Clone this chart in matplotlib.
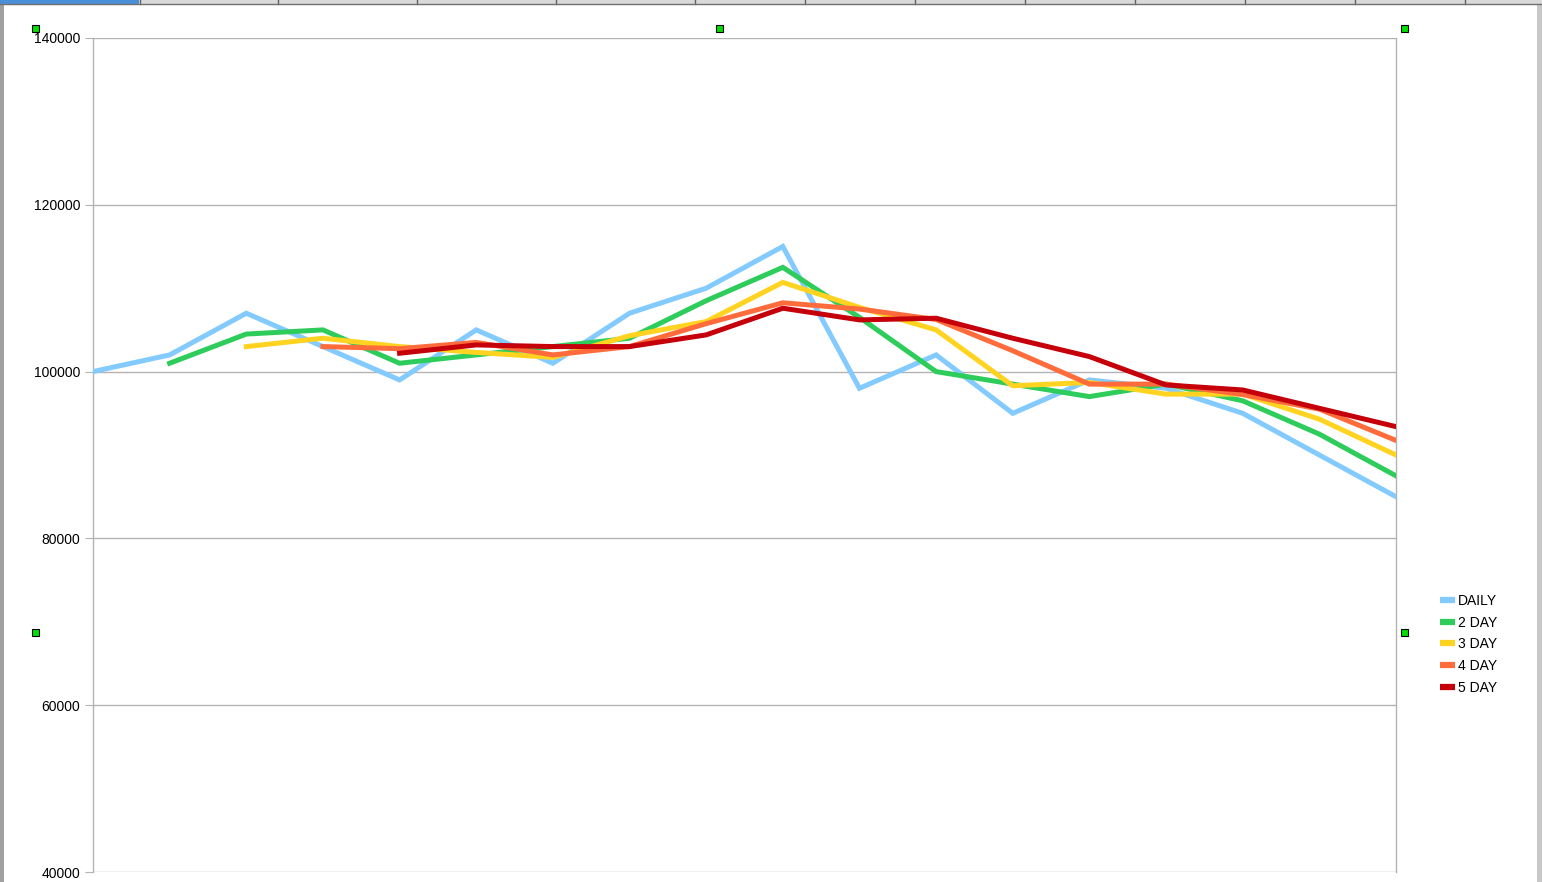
import numpy as np
import matplotlib.pyplot as plt
from matplotlib.patches import Rectangle
from matplotlib.lines import Line2D

# values (x = day index 0..17)
days = np.arange(18)
daily = [100000, 102000, 107000, 103000, 99000, 105000, 101000, 107000, 110000,
         115000, 98000, 102000, 95000, 99000, 98000, 95000, 90000, 85000]
day2 = [None, 101000, 104500, 105000, 101000, 102000, 103000, 104000, 108500,
        112500, 106500, 100000, 98500, 97000, 98500, 96500, 92500, 87500]
day3 = [None, None, 103000, 104000, 103000, 102300, 101700, 104300, 106000,
        110700, 107700, 105000, 98300, 98700, 97300, 97300, 94300, 90000]
day4 = [None, None, None, 103000, 102750, 103500, 102000, 103000, 105750,
        108250, 107500, 106250, 102500, 98500, 98500, 97250, 95500, 91750]
day5 = [None, None, None, None, 102200, 103200, 103000, 103000, 104400,
        107600, 106200, 106400, 104000, 101800, 98400, 97800, 95600, 93400]

series_names = ["DAILY", "2 DAY", "3 DAY", "4 DAY", "5 DAY"]
series_vals = [daily, day2, day3, day4, day5]
colors = ["#83caff", "#2ecc5a", "#ffd320", "#ff6b3b", "#c5000b"]

y_ticks = [40000, 60000, 80000, 100000, 120000, 140000]

plt.rcParams["font.family"] = ["Liberation Sans", "DejaVu Sans"]

W, H = 1542, 882
fig = plt.figure(figsize=(W / 100, H / 100), dpi=100)
ax = fig.add_axes([93 / W, (H - 872) / H, (1396 - 93) / W, (872 - 38) / H])

for name, vals, c in zip(series_names, series_vals, colors):
    y = np.array([np.nan if v is None else v for v in vals], dtype=float)
    ax.plot(days, y, color=c, lw=3.6, label=name, solid_joinstyle="miter", zorder=3)

ax.set_xlim(0, 17)
ax.set_ylim(40000, 140000)
ax.set_yticks(y_ticks)
ax.set_yticklabels([str(t) for t in y_ticks], fontsize=10)
ax.set_xticks([])
ax.grid(True, axis="y", color="#b3b3b3", lw=1)
ax.tick_params(axis="y", length=6, color="#b3b3b3", pad=3, labelcolor="black")
for s in ax.spines.values():
    s.set_color("#b3b3b3")
    s.set_linewidth(1)
ax.spines["top"].set_visible(False)
ax.spines["bottom"].set_visible(False)

handles = [Line2D([], [], color=c, lw=4.5, solid_capstyle="butt") for c in colors]
fig.legend(handles, series_names, loc="upper left",
           bbox_to_anchor=(1440 / W, 1 - 594 / H), frameon=False,
           fontsize=10, handlelength=1.1, handletextpad=0.2,
           labelspacing=0.55, borderaxespad=0, borderpad=0)

# window frame bits around the chart
fig.patches.append(Rectangle((0, 1 - 4 / H), 1, 4 / H, transform=fig.transFigure,
                             facecolor="#d9d9d9", edgecolor="none"))
fig.patches.append(Rectangle((0, 1 - 4 / H), 139 / W, 4 / H, transform=fig.transFigure,
                             facecolor="#4a90d9", edgecolor="none"))
for xc in [140, 278, 417, 556, 695, 805, 915, 1025, 1135, 1245, 1355, 1465]:
    fig.add_artist(Line2D([xc / W, xc / W], [1 - 4 / H, 1], transform=fig.transFigure,
                          color="#606060", lw=1))
fig.add_artist(Line2D([0, 1], [1 - 4 / H, 1 - 4 / H], transform=fig.transFigure,
                      color="#707070", lw=1))
fig.patches.append(Rectangle((0, 0), 4 / W, 1 - 4 / H, transform=fig.transFigure,
                             facecolor="#a0a0a0", edgecolor="none"))
fig.patches.append(Rectangle((1537 / W, 0), 5 / W, 1 - 4 / H, transform=fig.transFigure,
                             facecolor="#c8c8c8", edgecolor="none"))

# selection handles
for hx, hy in [(35, 29), (719, 29), (1404, 29), (35, 633), (1404, 633)]:
    fig.patches.append(Rectangle(((hx - 3) / W, 1 - (hy + 3) / H), 7 / W, 7 / H,
                                 transform=fig.transFigure, facecolor="#00e000",
                                 edgecolor="black", lw=0.8, zorder=10))

fig.savefig("out.png", dpi=100)
